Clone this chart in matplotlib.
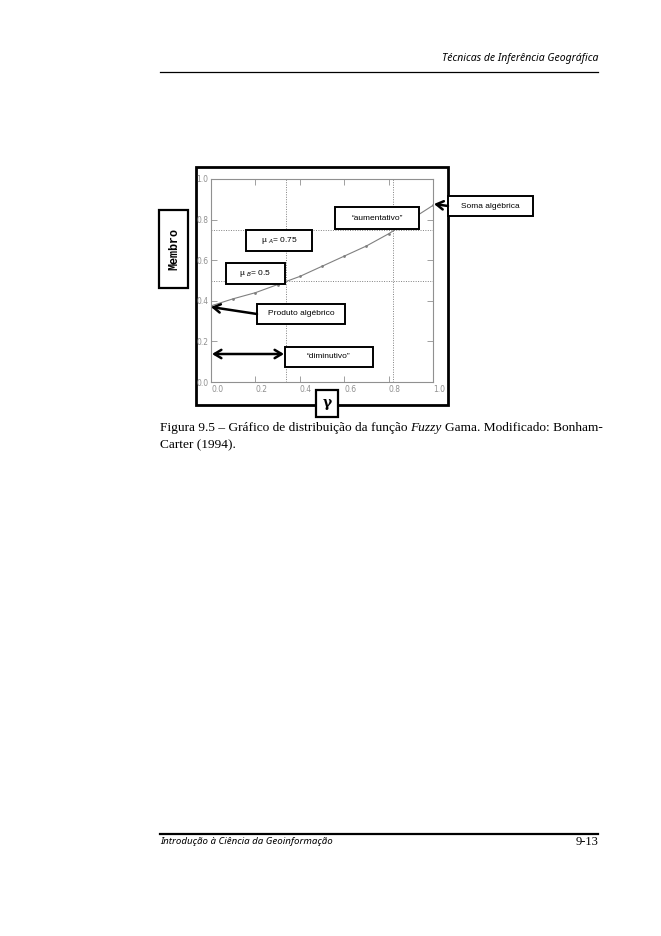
import matplotlib
matplotlib.use("Agg")
import matplotlib.pyplot as plt
from matplotlib.patches import Rectangle, FancyArrowPatch
from matplotlib.lines import Line2D

# data
gamma = [0.0, 0.1, 0.2, 0.3, 0.4, 0.5, 0.6, 0.7, 0.8, 0.9, 1.0]
membro = [0.375, 0.41, 0.44, 0.48, 0.52, 0.57, 0.62, 0.67, 0.73, 0.80, 0.87]
mu_levels = [0.75, 0.5]          # mu A, mu B (horizontal dotted lines)
gamma_cross = [0.82, 0.34]       # where the curve meets them
ticks = [0.0, 0.2, 0.4, 0.6, 0.8, 1.0]
tick_labels = ["0.0", "0.2", "0.4", "0.6", "0.8", "1.0"]

W, H = 661, 936
fig = plt.figure(figsize=(W / 100, H / 100), dpi=100)
fig.patch.set_facecolor("white")


def fx(x):
    return x / W


def fy(y):
    return 1 - y / H


def box(x0, y0, x1, y1, lw=1.6, z=8):
    fig.patches.append(Rectangle((fx(x0), fy(y1)), fx(x1 - x0), (y1 - y0) / H,
                                 transform=fig.transFigure, facecolor="white",
                                 edgecolor="black", lw=lw, zorder=z))


def arrow(x0, y0, x1, y1, style="->"):
    a = FancyArrowPatch((fx(x0), fy(y0)), (fx(x1), fy(y1)), transform=fig.transFigure,
                        arrowstyle=style + ",head_length=5,head_width=3",
                        color="black", lw=1.8, shrinkA=0, shrinkB=0, zorder=10)
    fig.patches.append(a)


# header / footer
fig.text(fx(598), fy(58), "Técnicas de Inferência Geográfica", family="Noto Sans",
         style="italic", fontsize=7.5, ha="right", va="center")
fig.add_artist(Line2D([fx(160), fx(598)], [fy(72), fy(72)], color="black", lw=0.9))
fig.add_artist(Line2D([fx(160), fx(598)], [fy(834), fy(834)], color="black", lw=1.6))
fig.text(fx(160), fy(842), "Introdução à Ciência da Geoinformação", family="Noto Sans",
         style="italic", fontsize=7, ha="left", va="center")
fig.text(fx(598), fy(842), "9-13", family="Liberation Serif", fontsize=9,
         ha="right", va="center")

# outer frame of the figure
box(196, 167, 448, 405, lw=2, z=2)

# plot
ax = fig.add_axes([fx(211), fy(382), (433 - 211) / W, (382 - 179) / H])
ax.set_zorder(5)
ax.plot(gamma, membro, color="#808080", lw=0.8, marker="o", markersize=1.0)
for m in mu_levels:
    ax.axhline(m, color="#808080", lw=0.7, ls=(0, (1, 1.5)))
for g in gamma_cross:
    ax.axvline(g, color="#808080", lw=0.7, ls=(0, (1, 1.5)))
ax.set_xlim(0, 1)
ax.set_ylim(0, 1)
ax.set_xticks(ticks)
ax.set_yticks(ticks)
ax.set_xticklabels(tick_labels)
ax.set_yticklabels(tick_labels)
ax.tick_params(direction="in", top=True, right=True, length=4, width=0.6,
               colors="#909090", labelsize=5.5, pad=2)
for lbl in ax.get_xticklabels():
    lbl.set_ha("left")
for s in ax.spines.values():
    s.set_color("#909090")
    s.set_linewidth(0.8)
ax.patch.set_alpha(0)

# labels and boxes
box(159, 210, 188, 288)
fig.text(fx(174), fy(249), "Membro", family="Liberation Mono", weight="bold",
         fontsize=8.5, rotation=90, ha="center", va="center", zorder=9)
box(316, 390, 338, 417)
fig.text(fx(327), fy(403), "γ", family="DejaVu Serif", weight="bold",
         fontsize=10, ha="center", va="center", zorder=9)

labels = [
    (448, 196, 533, 216, "Soma algébrica"),
    (335, 207, 419, 229, "\u201caumentativo\u201d"),
    (246, 230, 312, 251, r"µ $_{A}$= 0.75"),
    (226, 263, 285, 284, r"µ $_{B}$= 0.5"),
    (257, 304, 345, 324, "Produto algébrico"),
    (285, 347, 373, 367, "\u201cdiminutivo\u201d"),
]
for x0, y0, x1, y1, t in labels:
    box(x0, y0, x1, y1, lw=1.4)
    fig.text(fx((x0 + x1) / 2), fy((y0 + y1) / 2), t, family="Liberation Sans",
             fontsize=6, ha="center", va="center", zorder=9)

arrow(448, 206, 434, 204)
arrow(257, 314, 211, 307)
arrow(212, 354, 284, 354, style="<->")

# caption
renderer = fig.canvas.get_renderer()
parts = [("Figura 9.5 – Gráfico de distribuição da função", "normal", 0),
         ("Fuzzy", "italic", 3),
         ("Gama. Modificado: Bonham-", "normal", 3)]
x = fx(160)
for t, st, gap in parts:
    x += gap / W
    txt = fig.text(x, fy(428), t, family="Liberation Serif", style=st,
                   fontsize=9.6, ha="left", va="center")
    bb = txt.get_window_extent(renderer)
    x = bb.x1 / W
fig.text(fx(160), fy(445), "Carter (1994).", family="Liberation Serif",
         fontsize=9.6, ha="left", va="center")

fig.savefig("out.png", dpi=100)
